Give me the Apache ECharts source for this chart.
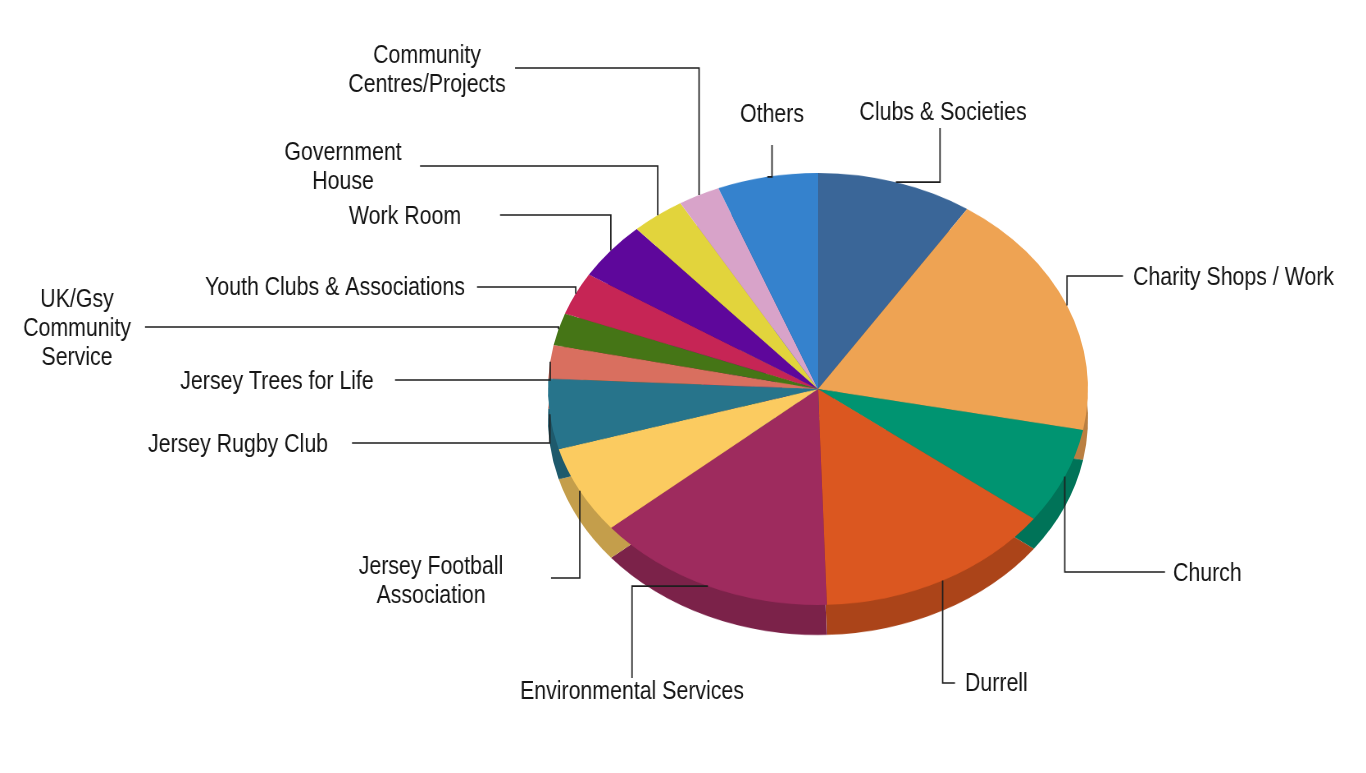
<!DOCTYPE html>
<html>
<head>
<meta charset="utf-8">
<title>Volunteering by organisation</title>
<script src="https://cdn.jsdelivr.net/npm/echarts@6/dist/echarts.min.js"></script>
<style>
html, body { margin: 0; padding: 0; background: #fff; }
#wrap { position: relative; width: 1366px; height: 773px; overflow: hidden; }
#pie, #labels { position: absolute; left: 0; top: 0; height: 773px; }
#pie { width: 1366px; }
/* squash the pie into an ellipse */
#pie { transform: scaleY(0.8); transform-origin: 0 389px; }
/* narrow the label layer so the text reads like a condensed face */
#labels { width: 1666px; transform: scaleX(0.82); transform-origin: 0 0; }
</style>
</head>
<body>
<div id="wrap">
  <div id="pie"></div>
  <div id="labels"></div>
</div>
<script>
const categories = [
  'Clubs & Societies', 'Charity Shops / Work', 'Church', 'Durrell',
  'Environmental Services', 'Jersey Football\nAssociation', 'Jersey Rugby Club',
  'Jersey Trees for Life', 'UK/Gsy\nCommunity\nService', 'Youth Clubs & Associations',
  'Work Room', 'Government\nHouse', 'Community\nCentres/Projects', 'Others'
]
const values = [9.3, 18.7, 7.2, 14.2, 14.4, 6.6, 5.25, 2.5, 2.4, 3.2, 4.4, 3.2, 2.5, 6.0]
const colors = [
  '#3a6698', '#eea353', '#009471', '#db5720', '#9e2b5e', '#fbcb60', '#27748b',
  '#d96f5f', '#457516', '#c62555', '#5e079b', '#e2d43c', '#d8a3c9', '#3582cd'
]

const CX = 818
const CY = 389
const R = 270
const SQUASH = 0.8
const DEPTH = 30
const KX = 0.82

// where each label sits (screen px) and how its leader line bends
const labelPlacement = [
  { x: 943, y: 113, align: 'center', bend: 'hv', bx: 940, ey: 128 },
  { x: 1133, y: 278, align: 'left', bend: 'vh', by: 276, ex: 1123 },
  { x: 1173, y: 574, align: 'left', bend: 'vh', by: 572, ex: 1165 },
  { x: 965, y: 684, align: 'left', bend: 'vh', by: 683, ex: 955 },
  { x: 632, y: 692, align: 'center', bend: 'hv', bx: 632, ey: 678 },
  { x: 431, y: 581, align: 'center', bend: 'vh', by: 578, ex: 551 },
  { x: 238, y: 445, align: 'center', bend: 'vh', by: 443, ex: 352 },
  { x: 277, y: 382, align: 'center', bend: 'vh', by: 380, ex: 395 },
  { x: 77, y: 329, align: 'center', bend: 'vh', by: 327, ex: 145 },
  { x: 335, y: 288, align: 'center', bend: 'vh', by: 287, ex: 477 },
  { x: 405, y: 217, align: 'center', bend: 'vh', by: 215, ex: 500 },
  { x: 343, y: 167, align: 'center', bend: 'vh', by: 166, ex: 420 },
  { x: 427, y: 70, align: 'center', bend: 'vh', by: 68, ex: 515 },
  { x: 772, y: 115, align: 'center', bend: 'hv', bx: 772, ey: 145 }
]

function darken(c, k) {
  const a = echarts.color.parse(c)
  return 'rgb(' + Math.round(a[0] * k) + ',' + Math.round(a[1] * k) + ',' + Math.round(a[2] * k) + ')'
}

const topData = categories.map((name, i) => ({ name, value: values[i], itemStyle: { color: colors[i] } }))
const sideData = categories.map((name, i) => ({
  name, value: values[i], itemStyle: { color: darken(colors[i], 0.78) }
}))

const pieChart = echarts.init(document.getElementById('pie'))
pieChart.setOption({
  animation: false,
  series: [
    {
      type: 'pie',
      silent: true,
      center: [CX, CY + DEPTH / SQUASH],
      radius: R,
      startAngle: 90,
      label: { show: false },
      labelLine: { show: false },
      itemStyle: { borderWidth: 0 },
      data: sideData
    },
    {
      type: 'pie',
      silent: true,
      center: [CX, CY],
      radius: R,
      startAngle: 90,
      label: { show: false },
      labelLine: { show: false },
      itemStyle: { borderWidth: 0 },
      data: topData
    }
  ]
})

// label layer lives in a space stretched by 1/KX horizontally
const labelChart = echarts.init(document.getElementById('labels'))
labelChart.setOption({
  animation: false,
  series: [
    {
      type: 'pie',
      silent: true,
      center: [CX / KX, CY],
      radius: R / KX,
      startAngle: 90,
      avoidLabelOverlap: false,
      itemStyle: { color: 'rgba(0,0,0,0)', borderWidth: 0 },
      label: {
        show: true,
        position: 'outside',
        color: '#141414',
        fontFamily: '"Liberation Sans", Arial, sans-serif',
        fontSize: 26,
        lineHeight: 29
      },
      labelLine: {
        show: true,
        length: 10,
        length2: 10,
        lineStyle: { color: '#1e1e1e', width: 1.7 }
      },
      labelLayout: function (p) {
        const s = labelPlacement[p.dataIndex]
        const a = p.labelLinePoints[0]
        // anchor on the squashed rim
        const ax = a[0]
        const ay = CY + (a[1] - CY) * SQUASH * KX
        let pts
        if (s.bend === 'hv') pts = [[ax, ay], [s.bx / KX, ay], [s.bx / KX, s.ey]]
        else pts = [[ax, ay], [ax, s.by], [s.ex / KX, s.by]]
        return { x: s.x / KX, y: s.y, align: s.align, verticalAlign: 'middle', labelLinePoints: pts }
      },
      data: topData.map(d => ({ name: d.name, value: d.value }))
    }
  ]
})
</script>
</body>
</html>
